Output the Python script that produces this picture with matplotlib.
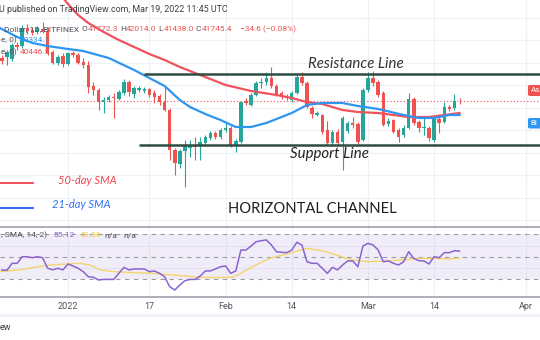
import numpy as np
import matplotlib.pyplot as plt
from matplotlib.patches import Rectangle, FancyBboxPatch

# daily candles, day 0 = 2022-01-01
days = np.arange(-13, 78)
opens = [46050, 46150, 45950, 47350, 47250, 49050, 48850, 48650, 48950, 48750,
         46650, 45550, 46250, 45450, 46550, 46350, 45650, 45350, 43250, 42850,
         41650, 41850, 42150, 41950, 42550, 43650, 42450, 42850, 42750, 42950,
         42550, 42250, 41650, 40850, 36850, 35450, 36750, 37050, 37350, 37250,
         37550, 38050, 38550, 38150, 38850, 39050, 37350, 37650, 41750, 41350,
         42350, 43550, 43650, 44050, 43250, 42550, 42250, 41850, 42550, 44150,
         43550, 41050, 40350, 40350, 38850, 37550, 38650, 37650, 38750, 39550,
         39450, 37850, 42850, 44050, 43650, 42550, 39450, 39850, 38850, 38350,
         39050, 41950, 39650, 39050, 39050, 37850, 39950, 39650, 41150, 41050,
         41772.3]
highs = [46350, 46850, 47550, 47650, 49350, 49450, 49150, 49250, 49650, 49150,
         46850, 46350, 46550, 46650, 46750, 46550, 46050, 45750, 43650, 43050,
         42150, 42350, 42550, 42850, 43950, 43850, 43250, 43250, 43150, 43050,
         42850, 42450, 43150, 41050, 37050, 36950, 37850, 37850, 38150, 38150,
         38350, 38750, 38750, 39050, 39650, 39250, 37950, 41750, 42050, 42550,
         43750, 44050, 44650, 45150, 43450, 42750, 42450, 42750, 44350, 44650,
         43750, 41250, 40750, 40450, 39750, 38850, 38950, 40250, 39750, 40150,
         39650, 43050, 44650, 44750, 43850, 42750, 40050, 39950, 39050, 39350,
         42550, 42150, 39850, 40050, 39250, 40250, 40350, 41650, 41350, 42450,
         42014.0]
lows = [45450, 45350, 45750, 46850, 47050, 48450, 48350, 48450, 48550, 46350,
        45450, 45350, 45150, 45350, 46150, 45450, 45050, 42550, 42350, 40850,
        40550, 41650, 40050, 41850, 42350, 42250, 42050, 42650, 42550, 42150,
        41550, 41350, 40750, 35850, 34350, 35050, 33150, 36150, 35850, 35850,
        37350, 37850, 37950, 37950, 38650, 37150, 36650, 37550, 41350, 41250,
        42250, 43050, 43350, 43050, 42250, 41950, 41850, 41650, 42450, 43350,
        41050, 40050, 40250, 38450, 37350, 37250, 37350, 34850, 38550, 39050,
        37450, 37750, 42650, 43250, 42150, 39250, 39250, 38550, 37650, 38150,
        38950, 39350, 38650, 38350, 37750, 37650, 38550, 39550, 40750, 40850,
        41438.0]
closes = [45750, 46650, 47350, 47150, 49050, 48750, 48550, 49050, 48650, 46550,
          45550, 46150, 45450, 46550, 46350, 45550, 45350, 43150, 42850, 41650,
          41850, 42150, 42050, 42650, 43650, 42650, 43050, 43050, 42950, 42350,
          42150, 41650, 40850, 36850, 35550, 36750, 37250, 37350, 37150, 37650,
          38150, 38550, 38150, 38850, 39050, 37350, 37750, 41650, 41550, 42350,
          43550, 43650, 44050, 43250, 42450, 42150, 42050, 42550, 44150, 43550,
          41150, 40450, 40550, 38650, 37550, 38650, 37550, 40050, 39550, 39350,
          37650, 42850, 44050, 43550, 42350, 39350, 39750, 38650, 38150, 39050,
          41950, 39550, 39050, 39150, 38050, 40050, 39550, 41150, 40950, 41750,
          41745.4]

rsi = [38.3, 38.0, 44.2, 44.2, 50.1, 50.0, 49.2, 50.1, 49.2, 39.8,
       38.4, 39.8, 38.4, 43.6, 41.8, 39.8, 36.8, 32.3, 31.8, 29.4,
       29.9, 29.9, 29.9, 35.3, 40.6, 38.4, 39.2, 39.2, 39.2, 36.8,
       37.4, 35.3, 32.3, 23.4, 20.5, 24.9, 28.8, 29.9, 29.9, 32.9,
       37.4, 37.4, 39.2, 41.2, 41.8, 35.3, 37.4, 56.0, 56.0, 59.6,
       63.4, 64.3, 65.0, 60.5, 54.5, 54.0, 53.7, 56.0, 62.9, 60.5,
       45.6, 44.2, 44.2, 39.8, 35.3, 40.6, 38.4, 42.7, 46.3, 46.3,
       41.2, 59.6, 62.0, 60.5, 56.0, 45.6, 46.3, 44.2, 42.7, 45.6,
       54.5, 48.6, 46.6, 46.3, 43.6, 50.1, 49.2, 53.7, 53.7, 55.4,
       55.12]

# RSI-based MA, read at a few points
rsi_ma_days = [-13.4, -9.4, -6.8, -3.5, -0.3, 2.4, 4.3, 6.3, 8.9, 12.8, 16.7,
               20.6, 23.3, 25.9, 29.2, 32.4, 33.7, 36.3, 39.6, 43.5, 46.9,
               50.0, 52.7, 55.9, 59.2, 62.5, 65.7, 69.0, 72.4, 74.9, 77.0]
rsi_ma = [36.8, 38.4, 40.6, 42.7, 43.6, 44.2, 42.7, 38.4, 36.8, 35.9, 35.3,
          33.8, 32.9, 31.8, 31.6, 31.8, 34.7, 41.2, 48.6, 53.1, 57.5,
          55.4, 51.6, 47.2, 45.6, 46.3, 47.2, 48.6, 48.6, 48.0, 48.84]

# moving averages
sma50_days = [-3, 0, 2, 4, 7, 10, 13, 16, 19, 22, 25, 28, 31, 36, 41, 44, 47,
              50, 54, 57, 61, 67, 71, 74, 77]
sma50 = [53350, 51450, 50350, 49550, 48650, 47850, 47150, 46450, 45850, 45150,
         44550, 43950, 43350, 42750, 42350, 42050, 41650, 41450, 40850, 40650,
         40550, 40150, 40150, 40350, 40550]
sma21_days = [-13.4, -10, -7, -4, 0, 3, 8, 13, 16, 19, 22, 24, 27, 30, 33, 36,
              39, 41, 44, 47, 50, 54, 57, 61, 66, 69, 72, 75, 77]
sma21 = [49050, 48150, 47550, 47250, 46950, 46750, 46050, 44850, 44050, 43250,
         41850, 41150, 40450, 39850, 39150, 39150, 39550, 39950, 40550, 41350,
         41550, 41550, 41250, 40950, 40350, 40050, 40050, 40350, 40350]

resistance = 44450
support = 37400
last_close = 41745.4

tick_days = [0, 16, 31, 44, 59, 72, 90]
tick_labels = ["2022", "17", "Feb", "14", "Mar", "14", "Apr"]

UP, DOWN = "#26a69a", "#ef5350"
GRID = "#eef1f7"
UI = ["Roboto", "DejaVu Sans"]
ANN = ["Lato", "DejaVu Sans"]

W, H = 540, 340


def fx(px):
    return px / W


def fy(py):
    return 1 - py / H


fig = plt.figure(figsize=(5.4, 3.4), dpi=100)
fig.patch.set_facecolor("white")

ax = fig.add_axes([0, fy(226.7), 1, 226.7 / H])
rax = fig.add_axes([0, fy(296.7), 1, 70 / H], sharex=ax)
ax.set_xlim(-13.37, 92.82)
ax.set_ylim(29180, 51850)
rax.set_ylim(14.53, 76.76)

for a in (ax, rax):
    for s in a.spines.values():
        s.set_visible(False)
    for d in tick_days:
        a.axvline(d, color=GRID, lw=0.9, zorder=0)

for p in np.arange(29850, 51000, 2250):
    ax.axhline(p, color=GRID, lw=0.9, zorder=0)
ax.tick_params(left=False, bottom=False, labelleft=False, labelbottom=False)

# candles
o = np.array(opens)
c = np.array(closes)
cols = [UP if cc >= oo else DOWN for oo, cc in zip(o, c)]
ax.vlines(days, lows, highs, colors=cols, lw=0.8, zorder=3)
ax.bar(days, np.maximum(np.abs(c - o), 50), bottom=np.minimum(o, c),
       width=0.68, color=cols, zorder=4)

ax.plot(sma50_days, sma50, color="#f0525c", lw=1.6, zorder=5)
ax.plot(sma21_days, sma21, color="#2e95f0", lw=1.6, zorder=5)

ax.hlines(resistance, 14.9, 93, color="#2e4d42", lw=1.8, zorder=6)
ax.hlines(support, 14.0, 93, color="#2e4d42", lw=1.8, zorder=6)
ax.axhline(last_close, color=DOWN, lw=0.8, ls=(0, (1, 2)), zorder=2)

# RSI pane
rax.axhspan(30, 70, color="#7e57c2", alpha=0.1, lw=0, zorder=0)
for lvl in (40, 60):
    rax.axhline(lvl, color="#e4e2f0", lw=0.8, zorder=1)
for lvl in (30, 50, 70):
    rax.axhline(lvl, color="#9a9ca5", lw=0.8, ls=(0, (4, 4)), zorder=2)
rax.plot(rsi_ma_days, rsi_ma, color="#f2d46f", lw=1.0, zorder=3)
rax.plot(days, rsi, color="#8a63cf", lw=1.1, zorder=4)
rax.spines["top"].set_visible(True)
rax.spines["bottom"].set_visible(True)
for s in ("top", "bottom"):
    rax.spines[s].set_color("#9fa2aa")
    rax.spines[s].set_linewidth(1.2)
rax.set_yticks([])
rax.set_xticks(tick_days)
rax.set_xticklabels(tick_labels, family=UI, fontsize=6.5, color="#50535e")
rax.tick_params(axis="x", length=0, pad=4)

# bottom strip under the time axis
fig.patches.append(Rectangle((0, fy(317)), 1, 3.5 / H, transform=fig.transFigure,
                             color="#eef1f6", lw=0))

# header and legends
fig.text(fx(-1), fy(10), "U published on TradingView.com, Mar 19, 2022 11:45 UTC",
         family=UI, fontsize=6.4, color="#3c3f47", va="center")
fig.text(fx(4), fy(29), "Dollar, 1D, BITFINEX", family=UI, fontsize=6.0,
         color="#4c4f58", va="center")
for lab, val, px in [("O", "41772.3", 82), ("H", "42014.0", 120),
                     ("L", "41438.0", 158), ("C", "41745.4", 196)]:
    fig.text(fx(px), fy(29), lab, family=UI, fontsize=6.0, color="#4c4f58",
             va="center")
    fig.text(fx(px + 6), fy(29), val, family=UI, fontsize=6.0, color=DOWN,
             va="center")
fig.text(fx(240), fy(29), "\u221234.6 (\u22120.08%)", family=UI, fontsize=6.0,
         color=DOWN, va="center")
fig.text(fx(1), fy(40), "e, 0)", family=UI, fontsize=6.0, color="#4c4f58",
         va="center")
fig.text(fx(20), fy(40), "40334.1", family=UI, fontsize=6.0, color="#2e95f0",
         va="center")
fig.text(fx(1), fy(52), "e, 0)", family=UI, fontsize=6.0, color="#4c4f58",
         va="center")
fig.text(fx(20), fy(52), "40446.5", family=UI, fontsize=6.0, color=DOWN,
         va="center")

fig.text(fx(1), fy(235), ", SMA, 14, 2)", family=UI, fontsize=6.0,
         color="#4c4f58", va="center")
fig.text(fx(53), fy(235), "55.12", family=UI, fontsize=6.0, color="#8a63cf",
         va="center")
fig.text(fx(80), fy(235), "48.84", family=UI, fontsize=6.0, color="#e9c845",
         va="center")
fig.text(fx(104), fy(235), "n/a", family=UI, fontsize=6.0, color="#4c4f58",
         va="center")
fig.text(fx(123), fy(235), "n/a", family=UI, fontsize=6.0, color="#4c4f58",
         va="center")

# price tags on the right edge (box runs past the edge like the screenshot)
for y0, y1, lab, col in [(85, 96, "As", DOWN), (118, 128.5, "Bi", "#2e95f0")]:
    fig.patches.append(FancyBboxPatch((fx(528), fy(y1)), fx(20), (y1 - y0) / H,
                                      boxstyle="round,pad=0,rounding_size=0.004",
                                      transform=fig.transFigure, fc=col,
                                      ec="none"))
    fig.text(fx(530.5), fy((y0 + y1) / 2), lab, family=UI, fontsize=5.8,
             color="white", va="center")

# annotations
fig.text(fx(308), fy(64), "Resistance Line", family=ANN, style="italic",
         fontsize=10.8, color="#333333", va="center")
fig.text(fx(290), fy(154), "Support Line", family=ANN, style="italic",
         fontsize=10.8, color="#222222", va="center")
fig.text(fx(228), fy(209), "HORIZONTAL CHANNEL", family=ANN, fontsize=10.6,
         color="#1e1e1e", va="center")
fig.lines.append(plt.Line2D([0, fx(33)], [fy(183), fy(183)], color="#f0525c",
                            lw=1.4, transform=fig.transFigure))
fig.text(fx(58), fy(181), "50-day SMA", family=ANN, style="italic", fontsize=8.0,
         color="#ef4350", va="center")
fig.lines.append(plt.Line2D([0, fx(33)], [fy(208), fy(208)], color="#2e6ff0",
                            lw=1.4, transform=fig.transFigure))
fig.text(fx(52), fy(204.5), "21-day SMA", family=ANN, style="italic", fontsize=8.0,
         color="#2e6ff0", va="center")

fig.text(fx(0), fy(328), "ew", family=UI, fontsize=6.5, color="#3c3f47",
         va="center")

fig.savefig("out.png", dpi=100)
